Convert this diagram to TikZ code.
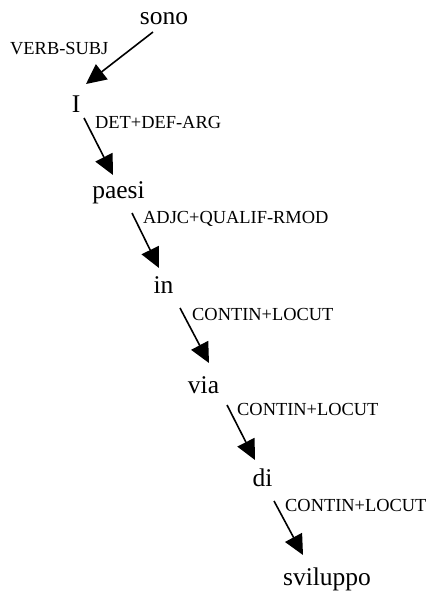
\documentclass[tikz,border=0pt]{standalone}
\usepackage{fontspec}
\setmainfont{Liberation Serif}
\usetikzlibrary{arrows.meta}
\tikzset{
  word/.style={inner sep=0pt, anchor=base, font=\fontsize{25.5}{30}\selectfont},
  rel/.style={inner sep=0pt, anchor=base west, font=\fontsize{18.4}{22}\selectfont},
  dep/.style={line width=1.6pt, -{Triangle[length=20pt,width=19pt]}}
}
\begin{document}
\begin{tikzpicture}[x=1pt,y=-1pt]
\useasboundingbox (0,0) rectangle (430,592);
% words
\node[word] (sono) at (164,24) {sono};
\node[word] (I) at (76,112) {I};
\node[word] (paesi) at (118.5,198) {paesi};
\node[word] (in) at (163.5,293) {in};
\node[word] (via) at (203.5,393) {via};
\node[word] (di) at (262.5,486) {di};
\node[word] (sviluppo) at (327,585) {sviluppo};
% relation labels
\node[rel] (l1) at (10,54) {VERB-SUBJ};
\node[rel] (l2) at (95,128) {DET+DEF-ARG};
\node[rel] (l3) at (143,223) {ADJC+QUALIF-RMOD};
\node[rel] (l4) at (192,320) {CONTIN+LOCUT};
\node[rel] (l5) at (237,415) {CONTIN+LOCUT};
\node[rel] (l6) at (285,511) {CONTIN+LOCUT};
% dependencies
\draw[dep] ([shift={(-11,8)}]sono.base) -- ([shift={(10,-28)}]I.base);
\draw[dep] ([shift={(8,6)}]I.base) -- ([shift={(-5.5,-23)}]paesi.base);
\draw[dep] ([shift={(13.5,15)}]paesi.base) -- ([shift={(-4.5,-25)}]in.base);
\draw[dep] ([shift={(16.5,15)}]in.base) -- ([shift={(5.5,-30)}]via.base);
\draw[dep] ([shift={(23.5,12)}]via.base) -- ([shift={(-7.5,-26)}]di.base);
\draw[dep] ([shift={(11.5,15)}]di.base) -- ([shift={(-24,-30)}]sviluppo.base);
\end{tikzpicture}
\end{document}
